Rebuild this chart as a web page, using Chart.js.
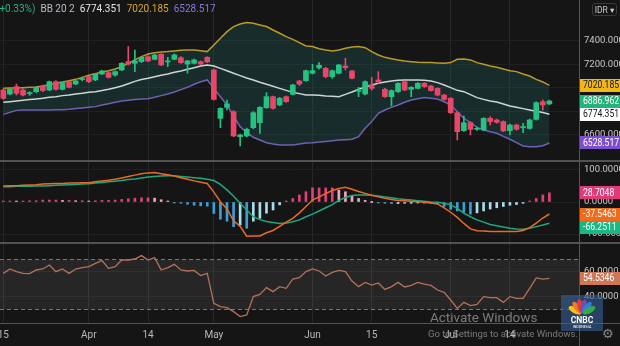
<!DOCTYPE html>
<html>
<head>
<meta charset="utf-8">
<script src="https://cdn.jsdelivr.net/npm/chart.js@4.4.1/dist/chart.umd.min.js"></script>
<style>
  html, body { margin: 0; padding: 0; background: #151515; }
  body { width: 620px; height: 346px; position: relative; overflow: hidden; font-family: Roboto, "DejaVu Sans", sans-serif; }
  .pane { position: absolute; left: 0; width: 620px; }
  #mainPane { top: 0; height: 160px; }
  #macdPane { top: 162px; height: 80px; }
  #rsiPane { top: 244px; height: 102px; }
  .sep { position: absolute; left: 0; width: 620px; height: 2px; background: #525252; }
  #axisLine { position: absolute; left: 579px; top: 0; width: 1px; height: 346px; background: #555; }
  #timeLine { position: absolute; left: 0; top: 323px; width: 620px; height: 1px; background: #555; }
  #legend { position: absolute; left: -4px; top: 3px; font-size: 10px; white-space: nowrap; }
  #legend span { margin-right: 5px; }
  #idr { position: absolute; left: 592px; top: 3px; width: 25px; height: 13px; border: 1px solid #3a3a3a; border-radius: 3px;
         color: #cfcfcf; font-size: 8.5px; line-height: 13px; text-align: center; box-sizing: border-box; }
  #wm1 { position: absolute; left: 430px; top: 309px; color: rgba(190,190,190,0.6); font-size: 13.5px; }
  #wm2 { position: absolute; left: 428px; top: 328px; color: rgba(190,190,190,0.6); font-size: 9.5px; }
  #logo { position: absolute; left: 561px; top: 295px; width: 42px; height: 36px; background: rgba(55,95,150,0.6); }
  #gear { position: absolute; left: 602px; top: 326px; color: #8a8a8a; font-size: 13px; font-family: "DejaVu Sans"; }
</style>
</head>
<body>
<div class="pane" id="mainPane"><canvas id="mainChart"></canvas></div>
<div class="sep" style="top:160px"></div>
<div class="pane" id="macdPane"><canvas id="macdChart"></canvas></div>
<div class="sep" style="top:242px"></div>
<div class="pane" id="rsiPane"><canvas id="rsiChart"></canvas></div>
<div id="timeLine"></div>
<div id="axisLine"></div>
<div id="legend"></div>
<div id="idr">IDR ▾</div>
<div id="logo">
  <svg width="42" height="36" viewBox="0 0 42 36">
    <g transform="translate(21,19)">
      <ellipse cx="0" cy="-8" rx="3" ry="7" fill="#f7c31a" transform="rotate(-62)"/>
      <ellipse cx="0" cy="-8" rx="3" ry="7" fill="#ef7d22" transform="rotate(-37)"/>
      <ellipse cx="0" cy="-8" rx="3" ry="7" fill="#e23b3b" transform="rotate(-12)"/>
      <ellipse cx="0" cy="-8" rx="3" ry="7" fill="#7b4aa8" transform="rotate(12)"/>
      <ellipse cx="0" cy="-8" rx="3" ry="7" fill="#2f7ed8" transform="rotate(37)"/>
      <ellipse cx="0" cy="-8" rx="3" ry="7" fill="#3aa84a" transform="rotate(62)"/>
    </g>
    <text x="21" y="28" fill="#fff" font-size="8.5" font-weight="bold" text-anchor="middle" font-family="Roboto">CNBC</text>
    <text x="21" y="33" fill="#fff" font-size="3.6" text-anchor="middle" font-family="Roboto">INDONESIA</text>
  </svg>
</div>
<div id="wm1">Activate Windows</div>
<div id="wm2">Go to Settings to activate Windows.</div>
<div id="gear">⚙</div>

<script>
// values, one entry per session
const tickIdx = [0, 13, 22, 32, 47, 56, 68, 77];
const tickText = ['15', 'Apr', '14', 'May', 'Jun', '15', 'Jul', '14'];
const slots = 88; // 84 sessions + empty room on the right

const open = [6981,6947,7010,6981,6950,6967,7015,6981,7052,6987,
  7052,7032,7070,7095,7067,7118,7129,7109,7152,7223,
  7209,7223,7266,7243,7286,7221,7243,7257,7203,7209,
  7223,7260,7152,6739,6833,6796,6582,6588,6659,6702,
  6830,6924,6853,6924,6944,7058,7061,7124,7170,7166,
  7095,7124,7186,7144,6970,6947,7024,7067,6987,6924,
  6967,7052,6987,6995,7038,7015,6995,6938,6910,6787,
  6634,6702,6645,6639,6739,6725,6711,6634,6682,6660,
  6653,6730,6881,6862];
const high = [6990,6995,7032,6990,6967,7010,7024,7058,7061,7050,
  7058,7064,7090,7100,7124,7150,7135,7144,7215,7352,
  7323,7266,7272,7286,7292,7260,7290,7266,7235,7245,
  7229,7266,7160,6830,6896,6805,6605,6655,6796,6840,
  6958,6930,6918,6930,7030,7064,7152,7200,7215,7175,
  7152,7200,7252,7150,7004,7060,7089,7138,6995,6982,
  7044,7058,7010,7044,7046,7022,7000,6945,6916,6795,
  6759,6710,6665,6745,6753,6732,6718,6690,6690,6696,
  6732,6880,6896,6896];
const low = [6900,6940,6938,6930,6935,6960,6967,6975,6980,6981,
  6998,7026,7060,7044,7060,7112,7083,7100,7146,7195,
  7138,7215,7223,7238,7189,7181,7238,7209,7124,7203,
  7198,7215,6895,6659,6810,6582,6503,6580,6650,6611,
  6824,6818,6846,6876,6938,7020,7055,7118,7160,7085,
  7080,7118,7152,7075,6924,6940,6981,7038,6918,6844,
  6960,6975,6924,6990,7004,6970,6930,6895,6780,6554,
  6628,6597,6636,6632,6682,6698,6625,6597,6638,6617,
  6646,6724,6810,6855];
const close = [6910,6987,6953,6938,6956,7004,6976,7052,6987,7044,
  7004,7058,7076,7052,7118,7144,7089,7138,7209,7203,
  7229,7260,7229,7280,7195,7229,7280,7215,7229,7238,
  7203,7221,6901,6824,6862,6588,6597,6645,6787,6833,
  6924,6824,6910,6881,7024,7032,7146,7146,7192,7095,
  7146,7195,7172,7081,6982,7052,6995,7050,6924,6976,
  7038,6981,7004,7038,7010,6976,6938,6901,6787,6625,
  6702,6645,6653,6739,6711,6705,6631,6682,6645,6668,
  6725,6873,6853,6886.962];

const bbUpper = [6995,6998,6998,7001,7004,7007,7015,7027,7038,7050,
  7061,7072,7089,7107,7121,7135,7146,7161,7181,7209,
  7238,7266,7289,7300,7306,7309,7315,7320,7323,7323,
  7317,7309,7366,7423,7480,7523,7545,7557,7551,7537,
  7523,7494,7466,7437,7414,7386,7357,7352,7334,7323,
  7315,7323,7337,7349,7352,7343,7309,7280,7260,7249,
  7238,7229,7223,7218,7215,7215,7212,7209,7215,7243,
  7246,7238,7215,7201,7186,7175,7161,7146,7138,7118,
  7101,7072,7050,7020.185];
const bbBasis = [6876,6881,6887,6893,6899,6904,6910,6919,6924,6933,
  6938,6947,6953,6961,6967,6976,6987,7001,7015,7035,
  7055,7070,7081,7095,7107,7118,7132,7144,7158,7172,
  7186,7195,7186,7166,7146,7124,7104,7084,7067,7047,
  7030,7013,6995,6978,6961,6950,6938,6938,6936,6930,
  6927,6924,6944,6964,6987,7007,7024,7038,7050,7058,
  7064,7067,7067,7067,7064,7058,7044,7024,7001,6978,
  6967,6941,6916,6901,6887,6879,6862,6844,6833,6822,
  6810,6799,6788,6774.351];
const bbLower = [6773,6790,6807,6810,6810,6810,6810,6810,6813,6813,
  6816,6822,6827,6833,6839,6853,6864,6876,6887,6893,
  6899,6904,6907,6919,6933,6947,6964,6984,7004,7030,
  7052,7067,6995,6924,6853,6759,6668,6619,6577,6554,
  6531,6520,6511,6511,6511,6520,6528,6531,6537,6542,
  6548,6554,6557,6560,6582,6654,6711,6782,6810,6833,
  6853,6876,6896,6907,6916,6910,6904,6881,6853,6796,
  6739,6702,6662,6642,6625,6611,6585,6560,6531,6503,
  6497,6497,6505,6528.517];

const macdLine = [50,51,51,52,53,54,56,57,58,58,
  59,59,60,60,63,66,68,71,75,80,
  84,88,91,92,88,85,81,76,71,66,
  62,58,31,1,-22,-59,-76,-107,-106,-106,
  -96,-89,-76,-63,-51,-34,-14,6,16,26,
  36,42,46,40,33,27,21,16,12,8,
  5,4,2,1,-1,-3,-6,-18,-32,-48,
  -67,-84,-90,-91,-92,-92,-92,-92,-92,-89,
  -80,-66,-50,-37.5463];
const signalLine = [48,48,49,49,49,50,50,51,52,53,
  54,55,56,57,59,61,63,65,67,70,
  72,75,78,80,81,82,82,80,78,76,
  74,71,67,55,38,18,-4,-25,-46,-55,
  -61,-64,-67,-66,-62,-56,-46,-38,-28,-18,
  -8,5,14,20,22,22,21,19,16,13,
  10,8,6,4,2,0,-1,-4,-9,-20,
  -35,-46,-56,-63,-70,-74,-78,-82,-84,-85,
  -82,-77,-72,-66.2511];
const macdHist = [2,3,2,3,4,4,6,6,6,5,
  5,4,4,3,4,5,5,6,8,10,
  12,13,13,12,7,3,-1,-4,-7,-10,
  -12,-13,-36,-54,-60,-77,-72,-82,-60,-51,
  -35,-25,-9,3,11,22,32,44,44,44,
  44,37,32,20,11,5,0,-3,-4,-5,
  -5,-4,-4,-3,-3,-3,-5,-14,-23,-28,
  -32,-38,-34,-28,-22,-18,-14,-10,-8,-4,
  2,11,22,28.7048];

const rsi = [58.5,62,59.9,58.5,58.3,61.2,62,65.2,59.9,62,
  58.5,62,63.1,63.9,66.5,68.7,62.5,63.9,69.2,69.2,
  70,72.7,69.2,71.1,61.2,63.1,65.7,61.2,60.4,60.9,
  56.7,58.5,34.5,31.9,31.1,27.9,23.9,25.2,39.9,41.7,
  47.1,43.9,47.9,46.5,54,55.1,59.9,62,60.4,56.4,
  59.3,60.9,59.9,52.4,47.9,51.3,49.2,50.8,45.7,47.9,
  51.3,47.6,48.9,51.3,49.9,48.9,45.2,43.3,37.2,30.5,
  35.3,32.7,33.7,39.9,39.1,39.1,35.3,39.9,38.5,38.5,
  46.5,54.9,53.9,54.5346];

const priceTicks = [6600, 6800, 7000, 7200, 7400];
const macdTicks = [-100, 0, 100];
const rsiTicks = [40, 60];
const rsiBand = [30, 70];
const changePct = '(+0.33%)';

const FONT = 'Roboto, "DejaVu Sans", sans-serif';
const GRID = '#262626';
const UP = '#26c281', DOWN = '#e8476a';

const labels = Array.from({length: slots}, (_, i) => {
    const k = tickIdx.indexOf(i);
    return k >= 0 ? tickText[k] : '';
});
const last = arr => arr[arr.length - 1];

function xScale(showLabels) {
    return {
        type: 'category',
        offset: true,
        grid: {
            offset: false,
            drawTicks: false,
            color: ctx => tickIdx.includes(ctx.index) ? GRID : 'transparent'
        },
        border: { display: false },
        ticks: {
            display: showLabels, autoSkip: false, maxRotation: 0, padding: 6,
            color: '#b8b8b8', font: { size: 10, family: FONT }
        },
        afterFit: s => { s.paddingLeft = 0; s.paddingRight = 0; s.height = showLabels ? 23 : 0; }
    };
}

function yScale(min, max, tickList, digits) {
    return {
        position: 'right', min: min, max: max,
        grid: { color: '#202020', drawTicks: false },
        border: { display: false },
        afterBuildTicks: s => { s.ticks = tickList.map(v => ({ value: v })); },
        ticks: {
            padding: 5, color: '#c8c8c8', font: { size: 9.5, family: FONT },
            callback: v => v.toFixed(digits)
        },
        afterFit: s => { s.width = 41; s.paddingTop = 0; s.paddingBottom = 0; }
    };
}

// coloured value boxes on the price axis
function tagPlugin(items) {
    return {
        id: 'tags',
        afterDraw(chart) {
            const { ctx, chartArea, scales } = chart;
            const h = 13;
            const rows = items.map(t => Object.assign({}, t, { py: scales.y.getPixelForValue(t.v) }))
                .sort((a, b) => a.py - b.py);
            for (let k = 1; k < rows.length; k++) {
                if (rows[k].py - rows[k - 1].py < h) rows[k].py = rows[k - 1].py + h;
            }
            ctx.save();
            ctx.font = '10px ' + FONT;
            ctx.textBaseline = 'middle';
            rows.forEach(r => {
                ctx.fillStyle = r.bg;
                ctx.fillRect(chartArea.right + 1, Math.round(r.py - h / 2), chart.width - chartArea.right, h);
                ctx.fillStyle = r.fg;
                ctx.save();
                ctx.translate(chartArea.right + 4, r.py + 0.5);
                ctx.scale(0.86, 1);
                ctx.fillText(r.v.toFixed(r.d), 0, 0);
                ctx.restore();
            });
            ctx.restore();
        }
    };
}

const bandPlugin = {
    id: 'band',
    beforeDatasetsDraw(chart) {
        const { ctx, chartArea: a, scales } = chart;
        const top = Math.round(scales.y.getPixelForValue(rsiBand[1])) + 0.5;
        const bot = Math.round(scales.y.getPixelForValue(rsiBand[0])) + 0.5;
        ctx.save();
        ctx.fillStyle = 'rgba(255,255,255,0.075)';
        ctx.fillRect(a.left, top, a.right - a.left, bot - top);
        ctx.strokeStyle = '#777';
        ctx.lineWidth = 1;
        ctx.setLineDash([4, 3]);
        [top, bot].forEach(py => {
            ctx.beginPath();
            ctx.moveTo(a.left, py);
            ctx.lineTo(a.right, py);
            ctx.stroke();
        });
        ctx.restore();
    }
};

const base = {
    responsive: true,
    maintainAspectRatio: false,
    animation: false,
    devicePixelRatio: 1,
    layout: { padding: 0 },
    plugins: { legend: { display: false }, tooltip: { enabled: false } }
};

function lineSet(data, color, width, order) {
    return { type: 'line', data: data, borderColor: color, borderWidth: width, pointRadius: 0, order: order };
}

const candleCol = close.map((c, i) => c >= open[i] ? UP : DOWN);

new Chart(document.getElementById('mainChart'), {
    type: 'bar',
    data: {
        labels: labels,
        datasets: [
            { data: open.map((o, i) => [o, close[i]]), backgroundColor: candleCol, barThickness: 5,
              minBarLength: 1, grouped: false, order: 0 },
            { data: low.map((l, i) => [l, high[i]]), backgroundColor: candleCol, barThickness: 1,
              grouped: false, order: 1 },
            lineSet(bbBasis, '#cdd5d5', 1.5, 2),
            lineSet(bbUpper, '#b99a2b', 1.5, 3),
            Object.assign(lineSet(bbLower, '#6c62b4', 1.5, 4),
                { fill: { target: 3 }, backgroundColor: 'rgba(38,120,115,0.24)' })
        ]
    },
    options: Object.assign({}, base, {
        scales: { x: xScale(false), y: yScale(6383, 7750, priceTicks, 3) }
    }),
    plugins: [tagPlugin([
        { v: last(bbUpper), bg: '#f0b719', fg: '#151515', d: 3 },
        { v: last(close), bg: '#22b47a', fg: '#ffffff', d: 3 },
        { v: last(bbBasis), bg: '#ffffff', fg: '#151515', d: 3 },
        { v: last(bbLower), bg: '#7c4fd0', fg: '#ffffff', d: 3 }
    ])]
});

const histCol = macdHist.map((h, i) => {
    const prev = i ? macdHist[i - 1] : h;
    if (h >= 0) return h >= prev ? '#e0407a' : '#f3a7bf';
    return h < prev ? '#3d9fd6' : '#a9dcec';
});

new Chart(document.getElementById('macdChart'), {
    type: 'bar',
    data: {
        labels: labels,
        datasets: [
            lineSet(macdLine, '#ea6a2a', 1.5, 0),
            lineSet(signalLine, '#1ea97c', 1.5, 1),
            { data: macdHist, backgroundColor: histCol, barThickness: 2, minBarLength: 1, order: 2 }
        ]
    },
    options: Object.assign({}, base, {
        scales: { x: xScale(false), y: yScale(-125, 125, macdTicks, 4) }
    }),
    plugins: [tagPlugin([
        { v: last(macdHist), bg: '#e23a78', fg: '#ffffff', d: 4 },
        { v: last(macdLine), bg: '#f26a1b', fg: '#ffffff', d: 4 },
        { v: last(signalLine), bg: '#19b983', fg: '#ffffff', d: 4 }
    ])]
});

new Chart(document.getElementById('rsiChart'), {
    type: 'line',
    data: {
        labels: labels,
        datasets: [lineSet(rsi, '#b5715c', 1.3, 0)]
    },
    options: Object.assign({}, base, {
        scales: { x: xScale(true), y: yScale(18.8, 82, rsiTicks, 4) }
    }),
    plugins: [bandPlugin, tagPlugin([{ v: last(rsi), bg: '#cf7656', fg: '#ffffff', d: 4 }])]
});

// indicator legend, top left
const legendBits = [
    [changePct, '#26b47c'],
    ['BB 20 2', '#b8bcc4'],
    [last(bbBasis).toFixed(3), '#e6e6e6'],
    [last(bbUpper).toFixed(3), '#d6a82e'],
    [last(bbLower).toFixed(3), '#8a78d8']
];
document.getElementById('legend').innerHTML =
    legendBits.map(b => '<span style="color:' + b[1] + '">' + b[0] + '</span>').join('');
</script>
</body>
</html>
